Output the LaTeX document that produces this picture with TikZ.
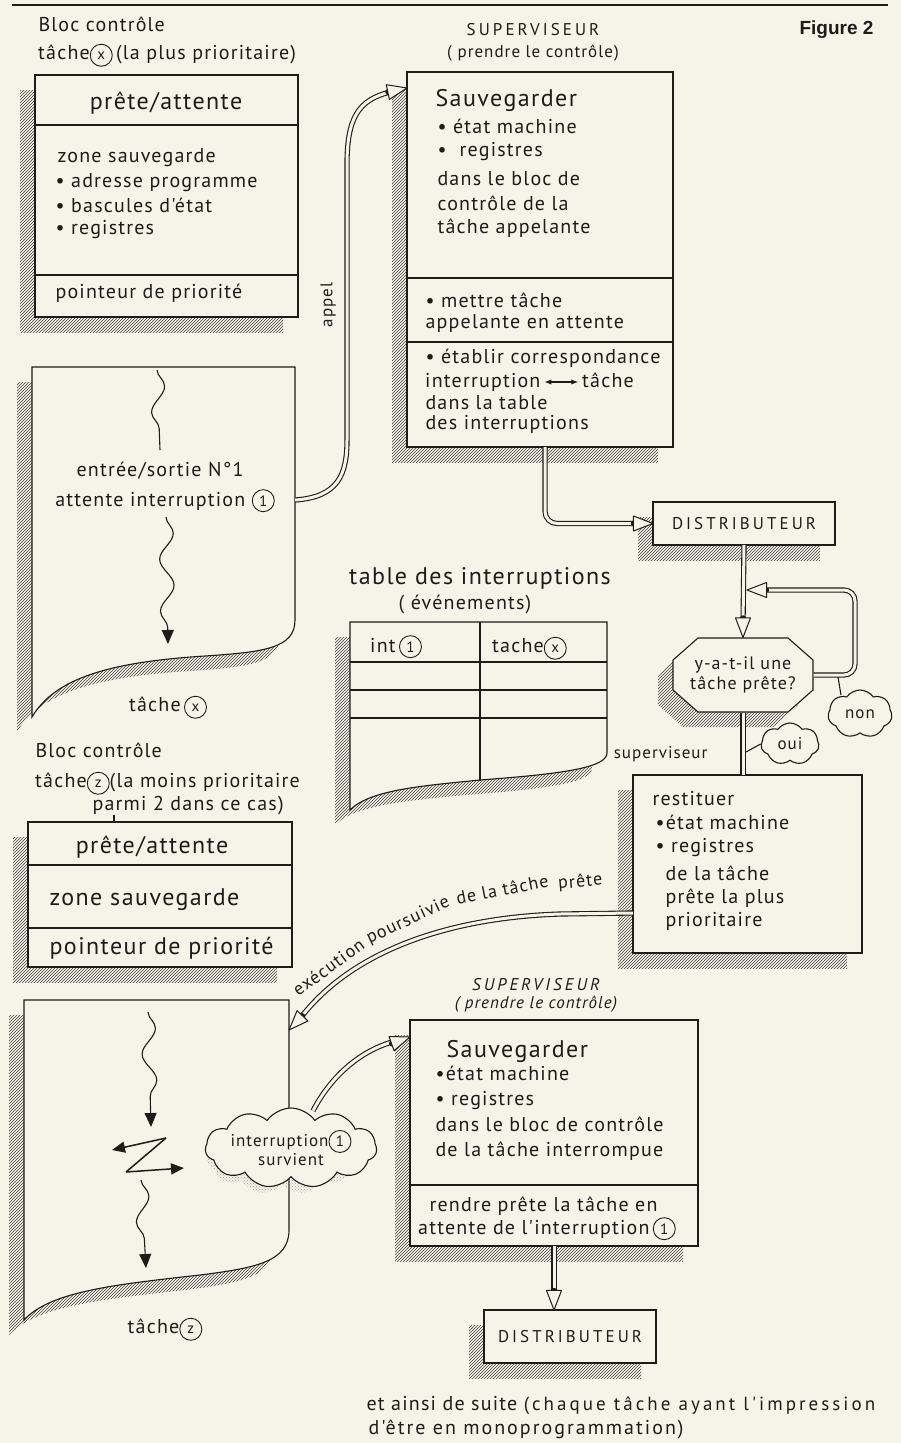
\documentclass[tikz,border=0pt]{standalone}
\usepackage{fontspec}
\setmainfont{PT Sans}
\newfontfamily\hand{PT Sans}[LetterSpace=6]
\newfontfamily\plainhand{PT Sans}
\newfontfamily\figfont{Liberation Sans}
\usetikzlibrary{calc,patterns,backgrounds,shapes.symbols,decorations.pathmorphing,arrows.meta}
\definecolor{bg}{RGB}{246,244,233}
\definecolor{ink}{RGB}{30,28,25}
\newcommand\fm{\hand\fontsize{20}{23}\selectfont}
\newcommand\fl{\hand\fontsize{24}{27}\selectfont}
\newcommand\fs{\hand\fontsize{17}{19}\selectfont}
\newcommand\fe{\hand\fontsize{18}{20}\selectfont}
\newcommand\fc{\hand\fontsize{17}{19}\selectfont\addfontfeatures{LetterSpace=18}}
\newcommand\cir[1]{\tikz[baseline=(cc.base)]\node[draw=ink,circle,line width=0.9pt,inner sep=0pt,minimum size=22pt,font=\plainhand\fontsize{15}{15}\selectfont](cc){#1};}
\newcommand\lrarrow{\tikz[baseline=-5pt]\draw[ink,line width=1.1pt,{Latex[length=7pt]}-{Latex[length=7pt]}] (0pt,0pt)--(34pt,0pt);}
\newcommand\ohead[2]{%
  \fill[ink] ($(#2)!19pt!(#1)$) circle (3.2pt);
  \filldraw[fill=bg,draw=ink,line width=1pt,line join=round] (#2) -- ($(#2)!21pt!21:(#1)$) -- ($(#2)!21pt!-21:(#1)$) -- cycle;}
\begin{document}
\begin{tikzpicture}[x=1pt,y=-1pt,line width=1.1pt,color=ink,
  bx/.style={draw,fill=bg,anchor=north west,inner sep=0pt,outer sep=0pt},
  sh/.style={pattern=north east lines,pattern color=ink!85},
  dbl/.style={draw=ink,line width=1.1pt,double=bg,double distance=3pt},
  t/.style={anchor=base west,inner sep=0pt,font=\fm},
  tc/.style={anchor=base,inner sep=0pt,font=\fm},
  rt/.style={anchor=base west,inner sep=0pt,font=\fe},
  wv/.style={decorate,decoration={snake,amplitude=7pt,segment length=52pt}},
  wva/.style={decorate,decoration={snake,amplitude=7pt,segment length=52pt,post length=12pt},-{Triangle[length=14pt,width=12pt]}},
  cl/.style={cloud,cloud puffs=9,cloud puff arc=110,cloud ignores aspect,draw,fill=bg,inner sep=0pt,align=center}]
\useasboundingbox (0,0) rectangle (901,1443);

% header
\draw[line width=1.4pt] (12,5) -- (888,5);
\node[anchor=base east,inner sep=0pt,font=\figfont\bfseries\fontsize{19}{21}\selectfont] (fig) at (874,34) {Figure 2};

% ---------- Bloc controle X ----------
\node[t] (bx1) at (38,31) {Bloc contrôle};
\node[t] (bx2) at (38,59) {tâche\cir{x}\,(la plus prioritaire)};
\node[bx,minimum width=263pt,minimum height=242pt] (blocX) at (35,75) {};
\draw (35,125) -- (298,125);
\draw (35,275) -- (298,275);
\node[tc,font=\fl] (bx3) at (166,109) {prête/attente};
\node[t] (bx4) at (57,162) {zone sauvegarde};
\node[t] (bx5) at (55,187) {• adresse programme};
\node[t] (bx6) at (55,212) {• bascules d'état};
\node[t] (bx7) at (55,234) {• registres};
\node[t] (bx8) at (55,298) {pointeur de priorité};

% ---------- Task X page ----------
\begin{scope}[shift={(-15,15)}]
\fill[sh] (32,367) -- (295,367) -- (295,620) .. controls (295,648) and (265,652) .. (205,656) .. controls (110,662) and (55,678) .. (32,717) -- cycle;
\end{scope}
\filldraw[fill=bg] (32,367) -- (295,367) -- (295,620) .. controls (295,648) and (265,652) .. (205,656) .. controls (110,662) and (55,678) .. (32,717) -- cycle;
\draw[wv] (157,370) -- (160,450);
\node[tc] (io1) at (160,476) {entrée/sortie N°1};
\node[tc] (io2) at (165,506) {attente interruption \cir{1}};
\draw[wva] (166,517) -- (168,644);
\node[tc] (tx) at (168,711) {tâche\,\cir{x}};
\coordinate (apS) at (295,500);

% ---------- Supervisor 1 ----------
\node[tc,font=\fc] (sv1a) at (533,35) {SUPERVISEUR};
\node[tc,font=\fs] (sv1b) at (533,57) {( prendre le contrôle)};
\node[bx,minimum width=266pt,minimum height=375pt] (sup1) at (407,72) {};
\draw (407,278) -- (673,278);
\draw (407,342) -- (673,342);
\node[t,font=\fl] (s1a) at (435,106) {Sauvegarder};
\node[t] (s1b) at (437,133) {• état machine};
\node[t] (s1c) at (437,156) {•\ \ registres};
\node[t] (s1d) at (437,185) {dans le bloc de};
\node[t] (s1e) at (437,210) {contrôle de la};
\node[t] (s1f) at (437,233) {tâche appelante};
\node[t] (s1g) at (425,307) {• mettre tâche};
\node[t] (s1h) at (425,328) {appelante en attente};
\node[t] (s1i) at (425,363) {• établir correspondance};
\node[t] (s1j) at (425,387) {interruption\,\lrarrow\,tâche};
\node[t] (s1k) at (425,409) {dans la table};
\node[t] (s1l) at (425,429) {des interruptions};

% appel arrow
\node[rotate=90,inner sep=0pt,font=\fs] (appel) at (328,305) {appel};
\coordinate (apT) at ($(sup1.north west)+(0,16)$);
\coordinate (apB) at (374,95);
\draw[dbl] (apS) .. controls (338,497) and (347,475) .. (347,440) -- (347,165) .. controls (347,118) and (358,100) .. (390,92);
\ohead{apB}{apT}

% ---------- Distributeur 1 ----------
\node[bx,minimum width=182pt,minimum height=43pt,font=\fc] (dist1) at (653,502) {DISTRIBUTEUR};
\coordinate (s1o) at ($(sup1.south)+(5,0)$);
\coordinate (d1a) at ($(dist1.west)+(-35,0)$);
\draw[dbl,rounded corners=12pt] (s1o) |- ($(dist1.west)+(-15,0)$);
\ohead{d1a}{dist1.west}

% ---------- Octagon ----------
\filldraw[fill=bg] (698,638) -- (788,638) -- (813,660) -- (813,690) -- (788,712) -- (698,712) -- (673,690) -- (673,660) -- cycle;
\node[inner sep=0pt,minimum width=140pt,minimum height=74pt,align=center,font=\hand\fontsize{18}{20}\selectfont] (oct) at (743,675) {y-a-t-il une\\tâche prête?};
\coordinate (d1b) at (743,600);
\draw[dbl] (dist1.south) -- ($(oct.north)+(0,-12)$);
\ohead{d1b}{oct.north}
% loop
\coordinate (lpT) at (747,590);
\coordinate (lpB) at (785,590);
\draw[dbl,rounded corners=11pt] (oct.east) -| (855,590) -- (768,590);
\ohead{lpB}{lpT}
\node[cl,cloud puffs=7,minimum width=64pt,minimum height=48pt,font=\fs] (non) at (860,714) {non};
\draw (838,677) -- (841,695);

% ---------- Restituer ----------
\node[bx,minimum width=229pt,minimum height=178pt] (rest) at (633,775) {};
\draw[dbl] (oct.south) -- (oct.south |- rest.north);
\node[cl,cloud puffs=7,minimum width=58pt,minimum height=42pt,font=\fs] (oui) at (790,744) {oui};
\draw (746,752) -- (oui.west);
\node[anchor=base east,inner sep=0pt,font=\fs] (svl) at (708,758) {superviseur};
\node[t] (r1) at (652,805) {restituer};
\node[t] (r2) at (655,829) {•état machine};
\node[t] (r3) at (655,852) {• registres};
\node[t] (r4) at (665,880) {de la tâche};
\node[t] (r5) at (665,903) {prête la plus};
\node[t] (r6) at (665,926) {prioritaire};

% ---------- Table ----------
\node[tc,font=\fl] (tt1) at (480,584) {table des interruptions};
\node[tc] (tt2) at (465,609) {( événements)};
\begin{scope}[shift={(-15,15)}]
\fill[sh] (350,622) -- (607,622) -- (607,753) .. controls (607,768) and (560,774) .. (480,780) .. controls (420,786) and (370,790) .. (350,810) -- cycle;
\end{scope}
\filldraw[fill=bg] (350,622) -- (607,622) -- (607,753) .. controls (607,768) and (560,774) .. (480,780) .. controls (420,786) and (370,790) .. (350,810) -- cycle;
\draw (350,662) -- (607,662);
\draw (350,690) -- (607,690);
\draw (350,718) -- (607,718);
\draw (480,622) -- (480,781);
\node[t] (ti1) at (370,652) {int\,\cir{1}};
\node[t] (ti2) at (492,652) {tache\cir{x}};

% ---------- Bloc controle Z ----------
\node[t] (bz1) at (35,757) {Bloc contrôle};
\node[t] (bz2) at (35,787) {tâche\cir{z}(la moins prioritaire};
\node[t] (bz3) at (92,810) {parmi 2 dans ce cas)};
\node[bx,minimum width=264pt,minimum height=145pt] (blocZ) at (28,822) {};
\draw (114,815) -- (114,822);
\draw (28,865) -- (292,865);
\draw (28,928) -- (292,928);
\node[tc,font=\fl] (bz4) at (152,853) {prête/attente};
\node[t,font=\fl] (bz5) at (49,905) {zone sauvegarde};
\node[t,font=\fl] (bz6) at (49,954) {pointeur de priorité};

% ---------- Task Z page ----------
\begin{scope}[shift={(-15,15)}]
\fill[sh] (24,1000) -- (289,1000) -- (289,1230) .. controls (289,1262) and (255,1268) .. (200,1275) .. controls (110,1285) and (50,1292) .. (24,1320) -- cycle;
\end{scope}
\filldraw[fill=bg] (24,1000) -- (289,1000) -- (289,1230) .. controls (289,1262) and (255,1268) .. (200,1275) .. controls (110,1285) and (50,1292) .. (24,1320) -- cycle;
\draw[wva] (148,1012) -- (151,1127);
\draw[line width=1.5pt,-{Triangle[length=13pt,width=11pt]}] (166,1138) -- (112,1150);
\draw[line width=1.5pt] (166,1138) -- (126,1172);
\draw[line width=1.5pt,-{Triangle[length=13pt,width=11pt]}] (126,1172) -- (184,1168);
\draw[wva] (141,1180) -- (146,1268);
\node[tc] (tz) at (165,1333) {tâche\cir{z}};
\coordinate (zT) at (289,1030);

% interrupt cloud
\node[cloud,cloud puffs=11,cloud puff arc=110,cloud ignores aspect,minimum width=150pt,minimum height=72pt,pattern=crosshatch dots,pattern color=ink!45] (intsh) at (282,1158) {};
\node[cl,cloud puffs=11,minimum width=162pt,minimum height=80pt,font=\fs] (intc) at (291,1148) {interruption\cir{1}\\survient};

% exécution arrow
\coordinate (exS) at ($(rest.north west)+(0,138)$);
\coordinate (exB) at (310,1008);
\draw[dbl] (exS) -- (560,914) .. controls (440,918) and (350,955) .. (302,1016);
\ohead{exB}{zT}
\node[rt,rotate=36] (ex1) at (298,997) {exécution};
\node[rt,rotate=25] (ex2) at (369,944) {poursuivie};
\node[rt,rotate=11] (ex3) at (457,905) {de la tâche};
\node[rt,rotate=5] (ex4) at (558,889) {prête};

% ---------- Supervisor 2 ----------
\node[tc,font=\fc\itshape] (sv2a) at (536,990) {SUPERVISEUR};
\node[tc,font=\fs\itshape] (sv2b) at (536,1008) {( prendre le contrôle)};
\node[bx,minimum width=288pt,minimum height=226pt] (sup2) at (410,1020) {};
\draw (410,1185) -- (698,1185);
\node[t,font=\fl] (s2a) at (446,1057) {Sauvegarder};
\node[t] (s2b) at (435,1080) {•état machine};
\node[t] (s2c) at (435,1105) {• registres};
\node[t] (s2d) at (435,1131) {dans le bloc de contrôle};
\node[t] (s2e) at (435,1156) {de la tâche interrompue};
\node[t] (s2f) at (429,1211) {rendre prête la tâche en};
\node[t] (s2g) at (418,1234) {attente de l'interruption\,\cir{1}};
\coordinate (cS) at ($(intc.north)+(22,3)$);
\coordinate (cT) at ($(sup2.north west)+(0,17)$);
\coordinate (cB) at (382,1047);
\draw[dbl] (cS) .. controls (330,1078) and (358,1052) .. (392,1042);
\ohead{cB}{cT}

% ---------- Distributeur 2 ----------
\node[bx,minimum width=172pt,minimum height=53pt,font=\fc] (dist2) at (484,1310) {DISTRIBUTEUR};
\coordinate (d2b) at ($(sup2.south)+(0,30)$);
\draw[dbl] (sup2.south) -- ($(sup2.south |- dist2.north)+(0,-12)$);
\ohead{d2b}{sup2.south |- dist2.north}

\node[t] (et1) at (366,1410) {et ainsi de suite {\hand\fontsize{19}{21}\selectfont\addfontfeatures{LetterSpace=16}(chaque tâche ayant l'impression}};
\node[t] (et2) at (368,1434) {\addfontfeatures{LetterSpace=10}d'être en monoprogrammation)};

% ---------- background and shadows ----------
\begin{scope}[on background layer]
\fill[bg] (0,0) rectangle (901,1443);
\foreach \n in {blocX,sup1,dist1,rest,blocZ,sup2,dist2}
  \fill[sh] ($(\n.north west)+(-15,15)$) rectangle ($(\n.south east)+(-15,15)$);
\begin{scope}[shift={(-15,15)}]
\fill[sh] (698,638) -- (788,638) -- (813,660) -- (813,690) -- (788,712) -- (698,712) -- (673,690) -- (673,660) -- cycle;
\end{scope}
\end{scope}
\end{tikzpicture}
\end{document}
